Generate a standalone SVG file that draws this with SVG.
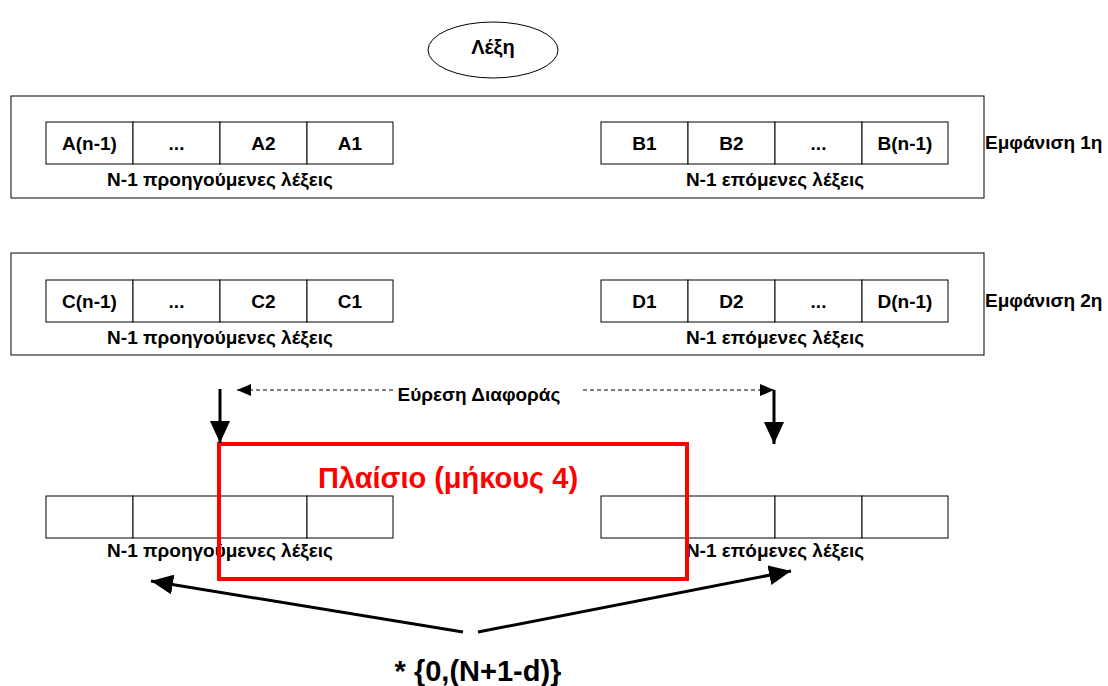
<svg xmlns="http://www.w3.org/2000/svg" width="1108" height="686" viewBox="0 0 1108 686">
  <defs>
    <style>
      text { font-family: "Liberation Sans", Arial, sans-serif; font-weight: bold; fill: #000; }
      .cell { fill: #fff; stroke: #000; stroke-width: 1; }
      .frame { fill: none; stroke: #000; stroke-width: 1; }
      .lbl { font-size: 19px; text-anchor: middle; }
      .cap { font-size: 19px; text-anchor: middle; }
      .side { font-size: 19px; }
      .dash { fill: none; stroke: #000; stroke-width: 1; stroke-dasharray: 4 3; }
      .thick { fill: none; stroke: #000; stroke-width: 3; }
    </style>
    <marker id="headSmall" viewBox="0 0 14 12" refX="14" refY="6" markerWidth="14" markerHeight="12" markerUnits="userSpaceOnUse" orient="auto">
      <path d="M0,0 L14,6 L0,12 Z" fill="#000"/>
    </marker>
    <marker id="headBig" viewBox="0 0 22 20" refX="22" refY="10" markerWidth="22" markerHeight="20" markerUnits="userSpaceOnUse" orient="auto">
      <path d="M0,0 L22,10 L0,20 Z" fill="#000"/>
    </marker>
  </defs>
  <rect width="1108" height="686" fill="#fff"/>

  <!-- word -->
  <g id="word">
    <ellipse cx="493" cy="50" rx="65" ry="28" fill="#fff" stroke="#000" stroke-width="1"/>
    <text x="493" y="54" style="font-size:20px;text-anchor:middle">Λέξη</text>
  </g>

  <!-- first occurrence -->
  <g id="occurrence1">
    <rect class="frame" x="11" y="96" width="973" height="102"/>
    <text class="side" x="985" y="149">Εμφάνιση 1η</text>
  </g>
  <g id="prevA">
    <rect class="cell" x="46" y="122" width="87" height="42"/>
    <rect class="cell" x="133" y="122" width="87" height="42"/>
    <rect class="cell" x="220" y="122" width="87" height="42"/>
    <rect class="cell" x="307" y="122" width="86" height="42"/>
    <text class="lbl" x="89.5" y="150">A(n-1)</text>
    <text class="lbl" x="176.5" y="150">...</text>
    <text class="lbl" x="263.5" y="150">A2</text>
    <text class="lbl" x="350" y="150">A1</text>
    <text class="cap" x="220" y="186">N-1 προηγούμενες λέξεις</text>
  </g>
  <g id="nextB">
    <rect class="cell" x="601" y="122" width="87" height="42"/>
    <rect class="cell" x="688" y="122" width="87" height="42"/>
    <rect class="cell" x="775" y="122" width="87" height="42"/>
    <rect class="cell" x="862" y="122" width="86" height="42"/>
    <text class="lbl" x="644.5" y="150">B1</text>
    <text class="lbl" x="731.5" y="150">B2</text>
    <text class="lbl" x="818.5" y="150">...</text>
    <text class="lbl" x="905" y="150">B(n-1)</text>
    <text class="cap" x="775" y="186">N-1 επόμενες λέξεις</text>
  </g>

  <!-- second occurrence -->
  <g id="occurrence2">
    <rect class="frame" x="11" y="253" width="973" height="102"/>
    <text class="side" x="985" y="307">Εμφάνιση 2η</text>
  </g>
  <g id="prevC">
    <rect class="cell" x="46" y="280" width="87" height="42"/>
    <rect class="cell" x="133" y="280" width="87" height="42"/>
    <rect class="cell" x="220" y="280" width="87" height="42"/>
    <rect class="cell" x="307" y="280" width="86" height="42"/>
    <text class="lbl" x="89.5" y="308">C(n-1)</text>
    <text class="lbl" x="176.5" y="308">...</text>
    <text class="lbl" x="263.5" y="308">C2</text>
    <text class="lbl" x="350" y="308">C1</text>
    <text class="cap" x="220" y="344">N-1 προηγούμενες λέξεις</text>
  </g>
  <g id="nextD">
    <rect class="cell" x="601" y="280" width="87" height="42"/>
    <rect class="cell" x="688" y="280" width="87" height="42"/>
    <rect class="cell" x="775" y="280" width="87" height="42"/>
    <rect class="cell" x="862" y="280" width="86" height="42"/>
    <text class="lbl" x="644.5" y="308">D1</text>
    <text class="lbl" x="731.5" y="308">D2</text>
    <text class="lbl" x="818.5" y="308">...</text>
    <text class="lbl" x="905" y="308">D(n-1)</text>
    <text class="cap" x="775" y="344">N-1 επόμενες λέξεις</text>
  </g>

  <!-- difference label -->
  <g id="difference">
    <text x="479" y="401" style="font-size:19px;text-anchor:middle">Εύρεση Διαφοράς</text>
  </g>

  <!-- empty result window -->
  <g id="prevEmpty">
    <rect class="cell" x="46" y="496" width="87" height="42"/>
    <rect class="cell" x="133" y="496" width="87" height="42"/>
    <rect class="cell" x="220" y="496" width="87" height="42"/>
    <rect class="cell" x="307" y="496" width="86" height="42"/>
    <text class="cap" x="220" y="557">N-1 προηγούμενες λέξεις</text>
  </g>
  <g id="nextEmpty">
    <rect class="cell" x="601" y="496" width="87" height="42"/>
    <rect class="cell" x="688" y="496" width="87" height="42"/>
    <rect class="cell" x="775" y="496" width="87" height="42"/>
    <rect class="cell" x="862" y="496" width="86" height="42"/>
    <text class="cap" x="775" y="557">N-1 επόμενες λέξεις</text>
  </g>

  <!-- sliding window -->
  <g id="window">
    <rect x="219" y="444" width="468" height="135" fill="none" stroke="#ff0000" stroke-width="4"/>
    <text x="448" y="488" style="font-size:29px;text-anchor:middle;fill:#ff0000">Πλαίσιο (μήκους 4)</text>
  </g>

  <!-- formula -->
  <g id="formula">
    <text x="478" y="681" style="font-size:29px;text-anchor:middle">* {0,(N+1-d)}</text>
  </g>

  <!-- connectors -->
  <g id="connectors">
    <line class="dash" x1="393" y1="390" x2="237" y2="390" marker-end="url(#headSmall)"/>
    <line class="dash" x1="583" y1="390" x2="774" y2="390" marker-end="url(#headSmall)"/>
    <line class="thick" x1="220" y1="389" x2="220" y2="443" marker-end="url(#headBig)"/>
    <line class="thick" x1="774" y1="390" x2="774" y2="444" marker-end="url(#headBig)"/>
    <line class="thick" x1="463" y1="632" x2="151" y2="581" marker-end="url(#headBig)"/>
    <line class="thick" x1="478" y1="632" x2="791" y2="571" marker-end="url(#headBig)"/>
  </g>
</svg>
